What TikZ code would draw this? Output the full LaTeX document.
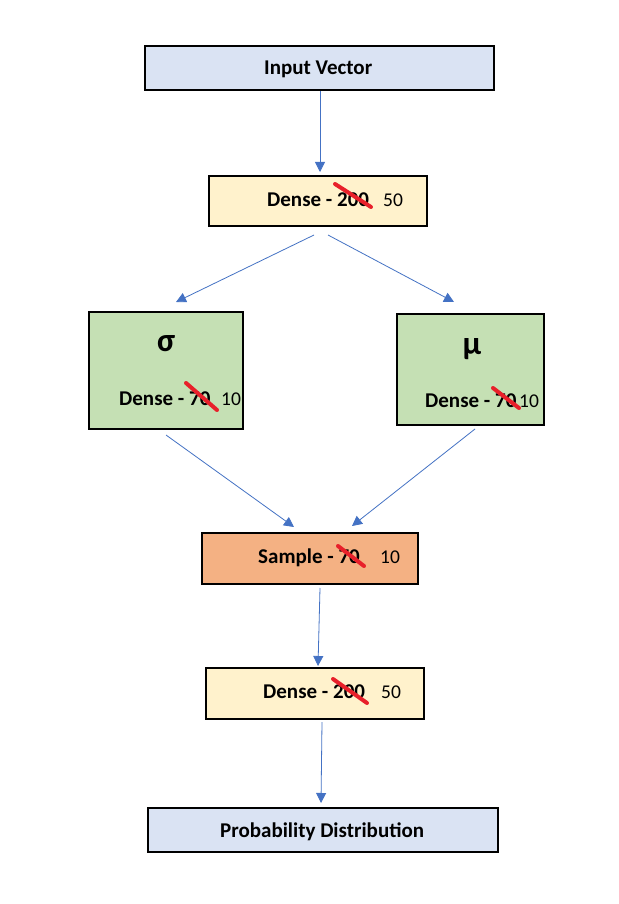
\documentclass[tikz,border=0pt]{standalone}
\usepackage{fontspec}
\setmainfont{Carlito}
\usetikzlibrary{arrows.meta}
\definecolor{boxblue}{HTML}{DAE3F3}
\definecolor{boxyellow}{HTML}{FFF2CC}
\definecolor{boxgreen}{HTML}{C5E0B4}
\definecolor{boxorange}{HTML}{F4B183}
\definecolor{arrblue}{HTML}{4472C4}
\definecolor{strikered}{HTML}{E8202A}
\tikzset{
  box/.style={draw=black, line width=1.6pt, inner sep=0pt, rectangle},
  lbl/.style={anchor=base west, inner sep=0pt, font=\fontsize{21}{25}\selectfont\bfseries},
  num/.style={anchor=base west, inner sep=0pt, font=\fontsize{19.5}{23}\selectfont},
  greek/.style={inner sep=0pt, font=\fontsize{33}{36}\selectfont\bfseries},
  arr/.style={draw=arrblue, line width=0.8pt, -{Triangle[width=10pt,length=10pt]}},
  strike/.style={draw=strikered, line width=4pt, line cap=round},
}
\begin{document}
\begin{tikzpicture}[x=1pt,y=-1pt]
\useasboundingbox (0,0) rectangle (618,904);
\fill[white] (0,0) rectangle (618,904);
% boxes
\node[box, fill=boxblue, minimum width=349pt, minimum height=44pt] (in) at (319.5,68) {};
\node[box, fill=boxyellow, minimum width=218pt, minimum height=50pt] (d1) at (318,201) {};
\node[box, fill=boxgreen, minimum width=154pt, minimum height=117pt] (sg) at (166,370.5) {};
\node[box, fill=boxgreen, minimum width=147pt, minimum height=111pt] (mu) at (470.5,369.5) {};
\node[box, fill=boxorange, minimum width=216pt, minimum height=51pt] (sm) at (310,558.5) {};
\node[box, fill=boxyellow, minimum width=218pt, minimum height=51pt] (d2) at (315,693.5) {};
\node[box, fill=boxblue, minimum width=350pt, minimum height=44pt] (pd) at (323,830) {};
% texts
\node[lbl] (tin) at (264,75) {Input Vector};
\node[lbl] (td1) at (267,207) {Dense - 200};
\node[num] (nd1) at (383,207) {50};
\node[greek] (tsg) at (166,344) {σ};
\node[lbl] (tsgd) at (119,405) {Dense - 70};
\node[num] (nsg) at (221,405) {10};
\node[greek] (tmu) at (472,349) {μ};
\node[lbl] (tmud) at (425,407) {Dense - 70};
\node[num] (nmu) at (519,407) {10};
\node[lbl] (tsm) at (258,563) {Sample - 70};
\node[num] (nsm) at (380,563) {10};
\node[lbl] (td2) at (263,698) {Dense - 200};
\node[num] (nd2) at (381,698) {50};
\node[lbl] (tpd) at (220,837) {Probability Distribution};
% strikes
\draw[strike] (335,184) -- (371,207);
\draw[strike] (186,383) -- (217,410);
\draw[strike] (493,388) -- (519,408);
\draw[strike] (338,546) -- (364,566);
\draw[strike] (333,679) -- (367,703);
% connector end points
\coordinate (a1s) at (320,91);  \coordinate (a1e) at (320,172);
\coordinate (a2s) at (314,235); \coordinate (a2e) at (176,302);
\coordinate (a3s) at (328,235); \coordinate (a3e) at (454,302);
\coordinate (a4s) at (166,435); \coordinate (a4e) at (294,527);
\coordinate (a5s) at (475,429); \coordinate (a5e) at (352,526);
\coordinate (a6s) at (320,588); \coordinate (a6e) at (318,666);
\coordinate (a7s) at (322,722); \coordinate (a7e) at (321,803);
\draw[arr] (a1s) -- (a1e);
\draw[arr] (a2s) -- (a2e);
\draw[arr] (a3s) -- (a3e);
\draw[arr] (a4s) -- (a4e);
\draw[arr] (a5s) -- (a5e);
\draw[arr] (a6s) -- (a6e);
\draw[arr] (a7s) -- (a7e);
\end{tikzpicture}
\end{document}
